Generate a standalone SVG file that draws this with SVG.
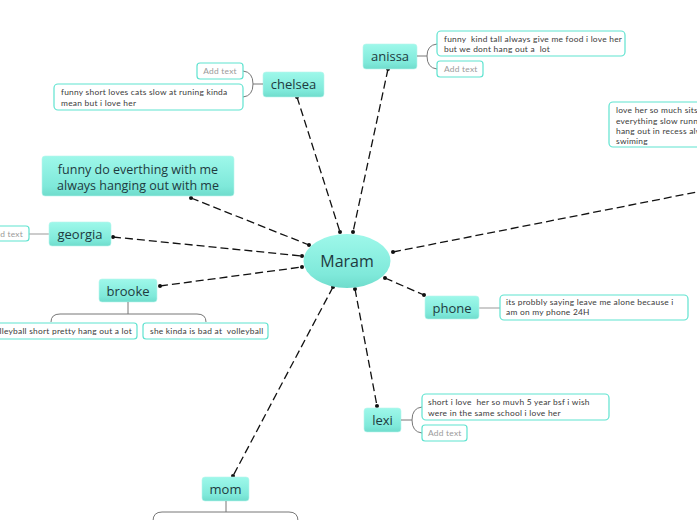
<svg xmlns="http://www.w3.org/2000/svg" width="697" height="520" viewBox="0 0 697 520">
<defs>
<linearGradient id="g" x1="0" y1="0" x2="0" y2="1">
<stop offset="0" stop-color="#9ef8ea"/>
<stop offset="0.75" stop-color="#7fe9da"/>
<stop offset="1" stop-color="#6fdccc"/>
</linearGradient>
<marker id="dot" viewBox="0 0 6 6" refX="3" refY="3" markerWidth="4" markerHeight="4" markerUnits="userSpaceOnUse">
<circle cx="3" cy="3" r="3" fill="#111"/>
</marker>
</defs>
<style>
.node{fill:url(#g);stroke:#b8f5ec;stroke-width:0.6}
.lbl{font-family:"Open Sans","Noto Sans",sans-serif;font-size:13px;fill:#1e3a40;text-anchor:middle}
.box{fill:#fff;stroke:#5fe3d0;stroke-width:1.2}
.t{font-family:Lato,"Noto Sans",sans-serif;font-size:8.4px;letter-spacing:0.25px;fill:#3a3a3a;white-space:pre}
.add{font-family:Lato,"Noto Sans",sans-serif;font-size:8.4px;letter-spacing:0.25px;fill:#9a9a9a}
.br{fill:none;stroke:#777;stroke-width:1}
.con{fill:none;stroke:#111;stroke-width:1.3;stroke-dasharray:8 4;marker-start:url(#dot);marker-end:url(#dot)}
</style>
<rect width="697" height="520" fill="#fff"/>

<g id="connectors">
<line class="con" x1="297" y1="97" x2="340" y2="232"/>
<line class="con" x1="388" y1="69" x2="353" y2="232"/>
<line class="con" x1="191" y1="198" x2="309" y2="245"/>
<line class="con" x1="113" y1="237" x2="302" y2="256"/>
<line class="con" x1="160" y1="286" x2="302" y2="267"/>
<line class="con" x1="393" y1="252" x2="712" y2="189" style="marker-end:none"/>
<line class="con" x1="385" y1="278" x2="424" y2="295"/>
<line class="con" x1="355" y1="289" x2="377" y2="406"/>
<line class="con" x1="333" y1="287" x2="233" y2="476"/>
</g>

<g id="maram">
<ellipse cx="347" cy="261" rx="43.5" ry="27" fill="url(#g)"/>
<text class="lbl" x="347" y="267" style="font-size:16px">Maram</text>
</g>

<g id="chelsea">
<rect class="node" x="263" y="72" width="61" height="25" rx="3"/>
<text class="lbl" x="293.5" y="89">chelsea</text>
<path class="br" d="M263,84 L253,84 M243,71 Q253,72 253,84 Q253,96 243,97"/>
<rect class="box" x="197" y="63" width="46" height="16" rx="3"/>
<text class="add" x="220" y="74" text-anchor="middle">Add text</text>
<rect class="box" x="54" y="84" width="189" height="26" rx="4"/>
<text class="t" x="61" y="95">funny short loves cats slow at runing kinda</text>
<text class="t" x="61" y="106">mean but i love her</text>
</g>

<g id="anissa">
<rect class="node" x="363" y="44" width="54" height="25" rx="3"/>
<text class="lbl" x="390" y="61">anissa</text>
<path class="br" d="M417,56 L427,56 M437,44 Q427,45 427,56 Q427,68 437,69"/>
<rect class="box" x="437" y="31" width="188" height="25" rx="4"/>
<text class="t" x="444" y="42">funny  kind tall always give me food i love her</text>
<text class="t" x="444" y="52">but we dont hang out a  lot</text>
<rect class="box" x="437" y="61" width="46" height="16" rx="3"/>
<text class="add" x="444" y="72">Add text</text>
</g>

<g id="right-node">
<rect class="box" x="609" y="102" width="120" height="45" rx="4"/>
<text class="t" x="616" y="113">love her so much sits</text>
<text class="t" x="616" y="123.5">everything slow running</text>
<text class="t" x="616" y="134">hang out in recess always</text>
<text class="t" x="616" y="144">swiming</text>
</g>

<g id="funny">
<rect class="node" x="42" y="156" width="192" height="40" rx="3"/>
<text class="lbl" x="138" y="173.5" style="font-size:12.5px">funny do everthing with me</text>
<text class="lbl" x="138" y="189.5" style="font-size:12.5px">always hanging out with me</text>
</g>

<g id="georgia">
<line x1="29" y1="234" x2="49" y2="234" stroke="#aaa" stroke-width="1.2"/>
<rect class="box" x="-20" y="226" width="49" height="15" rx="3"/>
<text class="add" x="23" y="237" text-anchor="end">Add text</text>
<rect class="node" x="49" y="222" width="62" height="24" rx="3"/>
<text class="lbl" x="80" y="239">georgia</text>
</g>

<g id="brooke">
<rect class="node" x="99" y="279" width="58" height="23" rx="3"/>
<text class="lbl" x="128" y="296">brooke</text>
<path class="br" d="M128,302 L128,314 M51,322 Q51,314 60,314 L197,314 Q206,314 206,322"/>
<rect class="box" x="-20" y="323" width="157" height="16" rx="3"/>
<text class="t" x="132" y="334" text-anchor="end">volleyball short pretty hang out a lot</text>
<rect class="box" x="143" y="323" width="125" height="16" rx="3"/>
<text class="t" x="150" y="334">she kinda is bad at  volleyball</text>
</g>

<g id="phone">
<line x1="479" y1="308" x2="500" y2="308" stroke="#aaa" stroke-width="1.2"/>
<rect class="node" x="425" y="296" width="54" height="23" rx="3"/>
<text class="lbl" x="452" y="313">phone</text>
<rect class="box" x="500" y="295" width="188" height="25" rx="4"/>
<text class="t" x="506" y="304.5">its probbly saying leave me alone because i</text>
<text class="t" x="506" y="315">am on my phone 24H</text>
</g>

<g id="lexi">
<rect class="node" x="364" y="408" width="37" height="24" rx="3"/>
<text class="lbl" x="382.5" y="425">lexi</text>
<path class="br" d="M401,420 L412,420 M422,407 Q412,408 412,420 Q412,432 422,433"/>
<rect class="box" x="422" y="394" width="187" height="26" rx="4"/>
<text class="t" x="428" y="405">short i love  her so muvh 5 year bsf i wish</text>
<text class="t" x="428" y="415.5">were in the same school i love her</text>
<rect class="box" x="422" y="425" width="45" height="16" rx="3"/>
<text class="add" x="428" y="436">Add text</text>
</g>

<g id="mom">
<rect class="node" x="202" y="477" width="47" height="24" rx="3"/>
<text class="lbl" x="225.5" y="494">mom</text>
<path class="br" d="M226,501 L226,512 M153,521 Q153,512 162,512 L289,512 Q298,512 298,521"/>
</g>
</svg>
